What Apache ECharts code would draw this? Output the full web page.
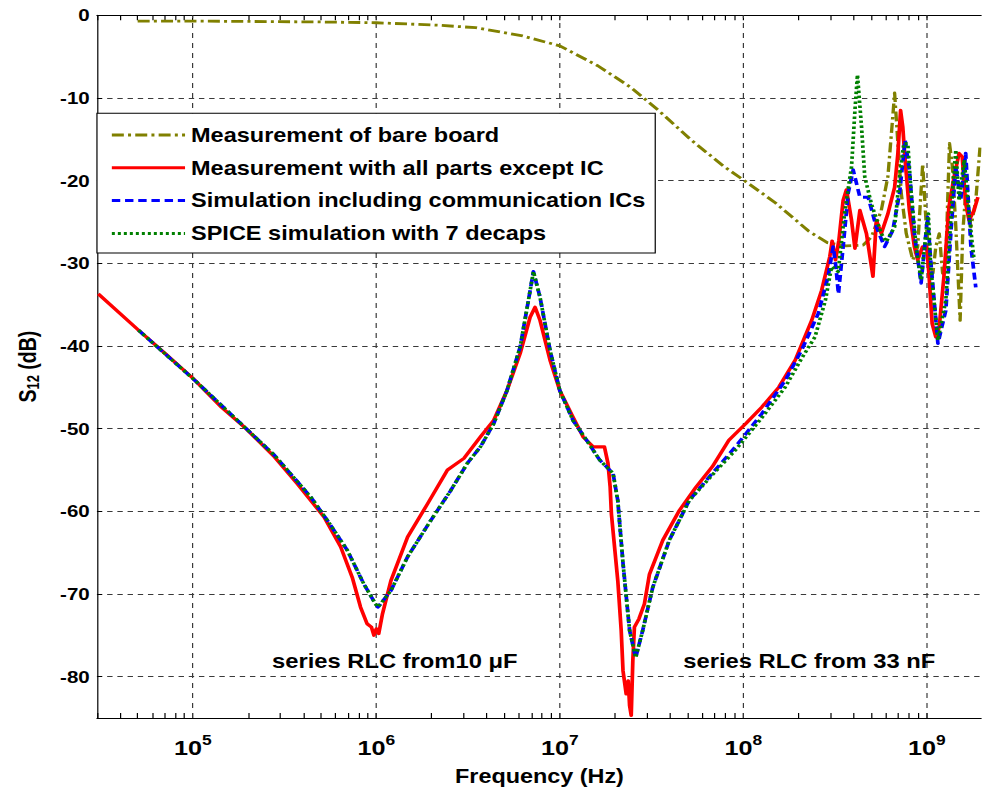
<!DOCTYPE html>
<html>
<head>
<meta charset="utf-8">
<script src="https://cdn.jsdelivr.net/npm/echarts@6/dist/echarts.min.js"></script>
<style>
  html, body { margin: 0; padding: 0; background: #fff; overflow: hidden; }
  #wrap { width: 982px; height: 792px; overflow: hidden; position: relative; }
  /* the figure is drawn narrower and widened horizontally, giving the wide lettering */
  #chart { width: 818.333px; height: 792px; transform: scaleX(1.2); transform-origin: 0 0; }
</style>
</head>
<body>
<div id="wrap"><div id="chart"></div></div>
<script>
// ---- series data: frequency (Hz) and S12 (dB) ----
const bareName = 'Measurement of bare board';
const bareFreq = [5.0e4, 1.0e5, 4.7e5, 1.0e6, 2.17e6, 3.48e6, 6.27e6, 1.0e7, 1.61e7, 2.43e7, 3.45e7, 5.21e7, 7.86e7, 1.0e8, 1.5e8, 2.27e8, 2.87e8, 3.63e8, 4.5e8, 5.0e8, 5.65e8, 6.14e8, 6.46e8, 6.68e8, 6.96e8, 7.26e8, 7.73e8, 8.39e8, 8.92e8, 9.5e8, 9.9e8, 1.03e9, 1.08e9, 1.12e9, 1.17e9, 1.22e9, 1.27e9, 1.33e9, 1.38e9, 1.44e9, 1.52e9, 1.57e9, 1.63e9, 1.74e9, 1.85e9, 1.95e9];
const bareDb = [-0.7, -0.7, -0.8, -0.9, -1.2, -1.5, -2.5, -3.7, -6.1, -8.7, -11.5, -15.1, -18.3, -19.9, -22.7, -26.1, -27.5, -27.9, -27.8, -26.8, -23.6, -19.5, -13.5, -9.4, -15.5, -21.5, -26.4, -29.6, -28.0, -18.0, -24.8, -29.6, -31.2, -28.0, -26.4, -31.2, -29.6, -15.5, -18.3, -25.6, -36.9, -26.4, -21.5, -25.6, -22.4, -16.0];

const partsName = 'Measurement with all parts except IC';
const partsFreq = [3.05e4, 5.06e4, 7.05e4, 1.0e5, 1.43e5, 1.95e5, 2.78e5, 3.72e5, 5.19e5, 6.39e5, 7.39e5, 8.2e5, 8.9e5, 9.4e5, 9.7e5, 1.0e6, 1.03e6, 1.08e6, 1.2e6, 1.48e6, 1.9e6, 2.44e6, 3.0e6, 3.69e6, 4.36e6, 5.15e6, 6.08e6, 6.89e6, 7.33e6, 7.8e6, 8.84e6, 1.0e7, 1.18e7, 1.34e7, 1.52e7, 1.75e7, 1.83e7, 1.88e7, 1.91e7, 2.07e7, 2.16e7, 2.21e7, 2.3e7, 2.36e7, 2.4e7, 2.45e7, 2.5e7, 2.55e7, 2.7e7, 2.89e7, 3.08e7, 3.64e7, 4.48e7, 5.51e7, 6.78e7, 8.34e7, 1.03e8, 1.26e8, 1.56e8, 1.92e8, 2.36e8, 2.67e8, 2.96e8, 3.05e8, 3.18e8, 3.32e8, 3.5e8, 3.65e8, 3.89e8, 4.06e8, 4.32e8, 4.69e8, 5.09e8, 5.31e8, 5.65e8, 6.14e8, 6.68e8, 6.96e8, 7.2e8, 7.4e8, 7.62e8, 8.04e8, 8.56e8, 8.92e8, 9.49e8, 1.0e9, 1.03e9, 1.07e9, 1.12e9, 1.17e9, 1.24e9, 1.32e9, 1.41e9, 1.5e9, 1.56e9, 1.63e9, 1.7e9, 1.81e9, 1.9e9];
const partsDb = [-33.7, -38.1, -40.9, -43.9, -47.4, -50.0, -53.4, -56.7, -60.7, -64.3, -68.0, -71.6, -73.6, -74.0, -75.0, -74.2, -74.8, -72.4, -68.4, -63.1, -59.1, -55.0, -53.6, -51.0, -49.0, -45.4, -40.9, -36.5, -35.3, -36.9, -41.7, -45.4, -48.6, -51.0, -52.2, -52.2, -54.2, -57.0, -60.3, -68.4, -74.4, -79.3, -82.1, -80.5, -83.5, -84.7, -78.0, -74.0, -73.0, -71.2, -67.6, -63.5, -59.9, -57.1, -54.6, -51.4, -49.4, -47.4, -45.0, -41.7, -36.9, -33.3, -29.2, -27.3, -29.6, -27.2, -22.4, -21.1, -24.8, -28.2, -23.6, -26.4, -31.6, -24.8, -26.4, -24.0, -20.8, -16.7, -11.5, -13.5, -17.5, -23.6, -28.0, -29.6, -28.0, -28.0, -31.6, -37.3, -38.9, -37.7, -31.6, -23.2, -19.5, -16.7, -17.1, -22.8, -24.8, -23.6, -22.0];

const simName = 'Simulation including communication ICs';
const simFreq = [5.06e4, 1.03e5, 1.91e5, 2.78e5, 4.4e5, 5.41e5, 6.94e5, 8.55e5, 9.89e5, 1.02e6, 1.2e6, 1.48e6, 1.98e6, 2.54e6, 3.13e6, 3.69e6, 4.36e6, 5.15e6, 6.08e6, 6.74e6, 7.18e6, 7.8e6, 8.84e6, 1.0e7, 1.18e7, 1.4e7, 1.65e7, 1.95e7, 2.07e7, 2.21e7, 2.4e7, 2.59e7, 2.83e7, 3.21e7, 3.95e7, 5.07e7, 6.78e7, 9.06e7, 1.26e8, 1.69e8, 2.08e8, 2.56e8, 2.9e8, 3.09e8, 3.2e8, 3.3e8, 3.5e8, 3.73e8, 3.97e8, 4.32e8, 4.79e8, 5.31e8, 5.89e8, 6.53e8, 7.11e8, 7.62e8, 8.04e8, 8.56e8, 9.31e8, 1.01e9, 1.05e9, 1.15e9, 1.27e9, 1.36e9, 1.44e9, 1.53e9, 1.63e9, 1.74e9, 1.85e9];
const simDb = [-38.1, -44.2, -49.8, -53.2, -58.3, -61.1, -64.7, -68.8, -71.2, -71.6, -69.6, -65.5, -61.1, -57.5, -54.2, -52.2, -49.4, -45.4, -40.1, -34.5, -31.0, -34.1, -40.5, -45.4, -49.0, -51.4, -53.8, -55.4, -58.7, -66.3, -74.4, -77.7, -74.4, -69.2, -63.5, -58.7, -55.4, -52.2, -48.2, -44.2, -40.5, -36.1, -31.6, -28.0, -30.5, -33.7, -28.0, -21.5, -18.7, -22.0, -22.0, -25.6, -28.0, -26.0, -21.5, -15.1, -18.7, -26.4, -32.4, -24.4, -29.6, -39.7, -35.7, -25.6, -18.3, -22.4, -16.7, -28.0, -32.9];

const spiceName = 'SPICE simulation with 7 decaps';
const spiceFreq = [5.06e4, 1.03e5, 1.91e5, 2.78e5, 4.4e5, 5.41e5, 6.94e5, 8.55e5, 9.89e5, 1.02e6, 1.2e6, 1.48e6, 1.98e6, 2.54e6, 3.13e6, 3.69e6, 4.36e6, 5.15e6, 6.08e6, 6.74e6, 7.18e6, 7.8e6, 8.84e6, 1.0e7, 1.18e7, 1.4e7, 1.65e7, 1.95e7, 2.07e7, 2.21e7, 2.4e7, 2.59e7, 2.83e7, 3.21e7, 3.95e7, 5.07e7, 6.78e7, 9.06e7, 1.26e8, 1.69e8, 2.08e8, 2.46e8, 2.8e8, 3.03e8, 3.29e8, 3.58e8, 3.89e8, 4.06e8, 4.19e8, 4.41e8, 4.59e8, 4.99e8, 5.65e8, 6.01e8, 6.68e8, 7.11e8, 7.5e8, 7.88e8, 8.22e8, 8.75e8, 9.31e8, 9.9e8, 1.02e9, 1.05e9, 1.15e9, 1.27e9, 1.38e9, 1.44e9, 1.5e9, 1.6e9, 1.7e9, 1.81e9];
const spiceDb = [-38.1, -44.2, -49.8, -53.2, -58.3, -61.1, -64.7, -68.8, -71.2, -71.6, -69.6, -65.5, -61.1, -57.5, -54.2, -52.2, -49.4, -45.4, -40.1, -34.5, -31.0, -34.1, -40.5, -45.4, -49.0, -51.4, -53.8, -55.4, -58.7, -66.3, -74.4, -77.7, -74.4, -69.2, -63.5, -58.7, -55.6, -52.6, -48.7, -45.0, -41.5, -38.9, -34.5, -30.4, -31.0, -23.6, -18.3, -11.5, -7.2, -13.5, -19.5, -22.8, -26.4, -27.4, -25.6, -19.5, -15.5, -15.5, -21.5, -28.0, -32.0, -26.4, -24.0, -30.4, -39.3, -34.5, -21.5, -16.3, -22.4, -17.5, -24.0, -29.6];

// ---- axes ----
const freqMin = 3e4, freqMax = 2e9;
const decadeTicks = [1e5, 1e6, 1e7, 1e8, 1e9];
const dbMin = -85, dbMax = 0;

const annotations = [
  { text: 'series RLC from10 \u03bcF', x: 226.7, y: 661.5 },
  { text: 'series RLC from 33 nF', x: 569.4, y: 661.5 }
];

// log-spaced minor ticks 2..9 within every decade
const logTicks = [];
for (let n = 4; n <= 9; n++) {
  for (let k = 1; k <= 9; k++) {
    const v = k * Math.pow(10, n);
    if (v >= freqMin && v <= freqMax) logTicks.push(v);
  }
}

const FONT = '"Liberation Sans", Arial, Helvetica, sans-serif';
const zip = (xs, ys) => xs.map((x, i) => [x, ys[i]]);

const chart = echarts.init(document.getElementById('chart'), null, {
  renderer: 'svg', width: 818.333, height: 792
});

function lineSeries(name, fx, fy, color, dash, width) {
  return {
    name: name,
    type: 'line',
    data: zip(fx, fy),
    symbol: 'none',
    showSymbol: false,
    clip: true,
    xAxisIndex: 0,
    yAxisIndex: 0,
    lineStyle: { color: color, width: width, type: dash, cap: 'butt', join: 'round' },
    itemStyle: { color: color },
    emphasis: { disabled: true },
    animation: false
  };
}

const bare = lineSeries(bareName, bareFreq, bareDb, '#808000', [10, 3.5, 2.5, 3.5], 2.8);
// dashed vertical grid at each decade
bare.markLine = {
  silent: true,
  z: 1,
  symbol: ['none', 'none'],
  label: { show: false },
  lineStyle: { color: '#3a3a3a', width: 1, type: [5, 5] },
  emphasis: { disabled: true },
  animation: false,
  data: decadeTicks.map(v => ({ xAxis: v }))
};

const option = {
  animation: false,
  backgroundColor: '#fff',
  grid: { left: 80.8, right: -5, top: 15.3, bottom: 74, containLabel: false },
  xAxis: [
    {
      type: 'log', logBase: 10, min: freqMin, max: freqMax, position: 'bottom',
      name: 'Frequency (Hz)', nameLocation: 'middle', nameGap: 49,
      nameTextStyle: { fontSize: 19.5, fontWeight: 'bold', color: '#000', fontFamily: FONT },
      axisLine: { show: true, onZero: false, lineStyle: { color: '#000', width: 1 } },
      axisTick: { show: true, inside: true, length: 5, customValues: logTicks, lineStyle: { color: '#000', width: 1 } },
      axisLabel: {
        show: true, margin: 15, customValues: decadeTicks,
        formatter: v => '{b|10}{e|' + Math.round(Math.log10(v)) + '}',
        rich: {
          b: { fontSize: 21, fontWeight: 'bold', color: '#000', fontFamily: FONT, lineHeight: 30 },
          e: { fontSize: 14.5, fontWeight: 'bold', color: '#000', fontFamily: FONT, lineHeight: 11, verticalAlign: 'top' }
        }
      },
      splitLine: { show: false }
    },
    {
      type: 'log', logBase: 10, min: freqMin, max: freqMax, position: 'top',
      axisLine: { show: true, onZero: false, lineStyle: { color: '#000', width: 1 } },
      axisTick: { show: true, inside: true, length: 5, customValues: logTicks, lineStyle: { color: '#000', width: 1 } },
      axisLabel: { show: false },
      splitLine: { show: false }
    }
  ],
  yAxis: [{
    type: 'value', min: dbMin, max: dbMax, splitNumber: 9,
    name: '{m|S}{s|12}{m| (dB)}', nameLocation: 'middle', nameRotate: 90, nameGap: 46,
    nameTextStyle: {
      rich: {
        m: { fontSize: 19.5, fontWeight: 'bold', color: '#000', fontFamily: FONT, lineHeight: 22 },
        s: { fontSize: 13, fontWeight: 'bold', color: '#000', fontFamily: FONT, lineHeight: 8, verticalAlign: 'bottom' }
      }
    },
    axisLine: { show: true, onZero: false, lineStyle: { color: '#000', width: 1 } },
    axisTick: { show: true, inside: true, length: 4.2, lineStyle: { color: '#000', width: 1 } },
    axisLabel: { showMinLabel: false, margin: 6, fontSize: 17.1, fontWeight: 'bold', color: '#000', fontFamily: FONT },
    splitLine: { show: true, lineStyle: { color: '#3a3a3a', width: 1, type: [4.5, 4] } }
  }],
  legend: {
    data: [bareName, partsName, simName, spiceName],
    orient: 'vertical',
    left: 80.8, top: 113.3,
    backgroundColor: '#fff', borderColor: '#000', borderWidth: 1, borderRadius: 0,
    padding: [11.7, 8, 9.5, 10.9],
    itemWidth: 61, itemHeight: 20, itemGap: 12.8,
    selectedMode: false,
    // line-only keys: the marker drawn over each key line is made invisible
    itemStyle: { opacity: 0 },
    lineStyle: { width: 3 },
    textStyle: { fontSize: 19.6, fontWeight: 'bold', color: '#000', fontFamily: FONT, lineHeight: 20 }
  },
  graphic: annotations.map(a => ({
    type: 'text', x: a.x, y: a.y, silent: true, z: 10,
    style: { text: a.text, fill: '#000', font: 'bold 19.8px ' + FONT, align: 'left', verticalAlign: 'middle' }
  })),
  series: [
    bare,
    lineSeries(partsName, partsFreq, partsDb, '#ff0000', 'solid', 3.1),
    lineSeries(simName, simFreq, simDb, '#0000ff', [7, 4], 3.1),
    lineSeries(spiceName, spiceFreq, spiceDb, '#008000', [2.5, 2.5], 3.1)
  ]
};

chart.setOption(option);
</script>
</body>
</html>
